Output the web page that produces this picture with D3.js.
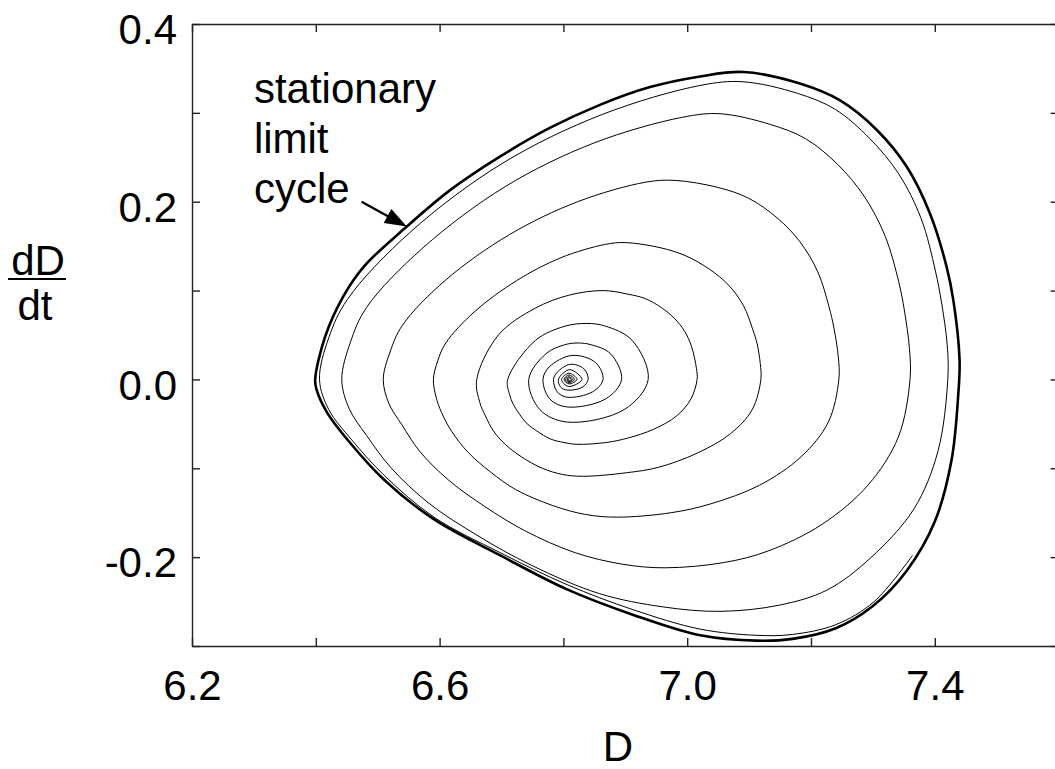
<!DOCTYPE html>
<html>
<head>
<meta charset="utf-8">
<script src="https://d3js.org/d3.v7.min.js"></script>
<style>
  body { margin: 0; background: #fff; }
  svg { display: block; font-family: "Liberation Sans", Arial, Helvetica, sans-serif; }
</style>
</head>
<body>
<svg class="phase-chart" width="1055" height="769"></svg>
<script>
const xTicks = [6.2, 6.4, 6.6, 6.8, 7.0, 7.2, 7.4, 7.6];
const xLabels = [6.2, 6.6, 7.0, 7.4];
const yTicks = [-0.3, -0.2, -0.1, 0.0, 0.1, 0.2, 0.3, 0.4];
const yLabels = [-0.2, 0.0, 0.2, 0.4];

// stationary limit cycle, [D, dD/dt], clockwise from the left tip
const limitCycle = [
  [6.399, 0.000], [6.415, 0.048], [6.444, 0.093], [6.479, 0.128], [6.547, 0.172], [6.617, 0.213],
  [6.698, 0.251], [6.778, 0.283], [6.859, 0.309], [6.940, 0.329], [7.021, 0.341], [7.091, 0.346],
  [7.182, 0.333], [7.247, 0.314], [7.306, 0.281], [7.355, 0.239], [7.392, 0.187], [7.419, 0.127],
  [7.430, 0.089], [7.440, 0.022], [7.438, -0.016], [7.427, -0.091], [7.400, -0.160], [7.355, -0.215],
  [7.300, -0.255], [7.240, -0.280], [7.170, -0.292], [7.112, -0.294], [7.021, -0.288], [6.913, -0.265],
  [6.805, -0.236], [6.698, -0.198], [6.590, -0.157], [6.509, -0.112], [6.455, -0.071], [6.418, -0.037],
  [6.401, -0.011]
];

// trajectory spiralling in to the fixed point
const spiral = [
  [7.364, -0.198], [7.302, -0.250], [7.240, -0.276], [7.170, -0.287], [7.113, -0.288], [7.021, -0.281],
  [6.912, -0.259], [6.806, -0.231], [6.698, -0.195], [6.591, -0.155], [6.512, -0.109], [6.458, -0.068],
  [6.421, -0.034], [6.406, 0.000],
  [6.421, 0.047], [6.451, 0.090], [6.553, 0.166], [6.701, 0.243], [6.862, 0.298], [7.022, 0.331],
  [7.090, 0.335], [7.178, 0.322], [7.239, 0.304], [7.295, 0.271], [7.342, 0.231], [7.378, 0.181],
  [7.401, 0.122], [7.411, 0.086], [7.420, 0.039], [7.421, 0.000],
  [7.405, -0.081], [7.366, -0.146], [7.296, -0.201], [7.226, -0.237], [7.149, -0.254],
  [7.053, -0.261], [6.961, -0.256], [6.858, -0.241], [6.748, -0.209], [6.662, -0.176], [6.582, -0.139],
  [6.521, -0.099], [6.482, -0.063], [6.454, -0.033], [6.442, 0.000],
  [6.456, 0.042], [6.482, 0.081], [6.573, 0.148], [6.706, 0.217], [6.849, 0.266], [6.992, 0.295],
  [7.053, 0.299], [7.134, 0.287], [7.191, 0.271], [7.243, 0.242], [7.286, 0.206], [7.320, 0.161],
  [7.342, 0.109], [7.351, 0.077], [7.359, 0.035], [7.360, 0.000],
  [7.341, -0.065], [7.292, -0.119], [7.218, -0.163], [7.131, -0.193], [7.060, -0.206],
  [6.964, -0.212], [6.896, -0.208], [6.819, -0.195], [6.737, -0.170], [6.673, -0.143], [6.614, -0.113],
  [6.568, -0.081], [6.539, -0.051], [6.518, -0.027], [6.509, 0.000],
  [6.520, 0.031], [6.540, 0.061], [6.610, 0.112], [6.713, 0.163], [6.823, 0.200], [6.933, 0.222],
  [6.980, 0.224], [7.050, 0.216], [7.099, 0.204], [7.145, 0.182], [7.182, 0.155], [7.211, 0.121],
  [7.229, 0.082], [7.237, 0.058], [7.244, 0.026], [7.245, 0.000],
  [7.228, -0.048], [7.184, -0.087], [7.117, -0.119], [7.038, -0.140], [6.974, -0.150], [6.887, -0.155],
  [6.836, -0.152], [6.783, -0.142], [6.723, -0.124], [6.682, -0.104], [6.646, -0.082], [6.620, -0.059],
  [6.603, -0.037], [6.594, -0.019], [6.590, 0.000],
  [6.597, 0.021], [6.610, 0.041], [6.656, 0.076], [6.724, 0.111], [6.796, 0.137], [6.868, 0.152],
  [6.900, 0.154], [6.958, 0.148], [6.998, 0.139], [7.036, 0.124], [7.067, 0.106], [7.091, 0.083],
  [7.106, 0.056], [7.113, 0.040], [7.118, 0.018], [7.119, 0.000],
  [7.105, -0.034], [7.070, -0.061], [7.016, -0.083], [6.953, -0.099], [6.902, -0.105], [6.832, -0.109],
  [6.799, -0.107], [6.766, -0.100], [6.732, -0.087], [6.706, -0.073], [6.687, -0.058], [6.674, -0.041],
  [6.665, -0.026], [6.660, 0.000],
  [6.695, 0.050], [6.754, 0.080], [6.810, 0.095], [6.864, 0.100],
  [6.904, 0.096], [6.932, 0.091], [6.958, 0.081], [6.979, 0.069], [6.996, 0.054], [7.007, 0.037],
  [7.015, 0.012], [7.016, 0.000],
  [7.006, -0.022], [6.983, -0.041], [6.946, -0.056], [6.904, -0.066], [6.869, -0.071], [6.822, -0.073],
  [6.801, -0.071], [6.779, -0.067], [6.757, -0.058], [6.740, -0.049], [6.728, -0.038], [6.719, -0.028],
  [6.713, -0.017], [6.710, 0.000],
  [6.755, 0.044], [6.803, 0.060], [6.838, 0.063], [6.868, 0.060], [6.911, 0.044], [6.937, 0.000],
  [6.898, -0.034], [6.806, -0.048], [6.762, -0.034], [6.744, 0.000],
  [6.772, 0.029], [6.802, 0.039], [6.824, 0.041], [6.845, 0.039], [6.876, 0.029], [6.894, 0.000],
  [6.868, -0.022], [6.806, -0.031], [6.778, -0.022], [6.767, 0.000],
  [6.777, 0.014], [6.814, 0.027], [6.852, 0.019], [6.864, 0.000],
  [6.847, -0.014], [6.806, -0.020], [6.790, -0.014], [6.784, 0.000],
  [6.790, 0.008], [6.811, 0.017], [6.833, 0.012], [6.840, 0.000],
  [6.830, -0.009], [6.807, -0.012], [6.796, -0.009], [6.792, 0.000],
  [6.810, 0.011], [6.830, 0.000], [6.808, -0.008], [6.797, 0.000],
  [6.809, 0.007], [6.822, 0.000], [6.809, -0.005], [6.801, 0.000],
  [6.809, 0.005], [6.818, 0.000], [6.809, -0.0035], [6.803, 0.000],
  [6.809, 0.003], [6.815, 0.000], [6.809, -0.0024], [6.8055, 0.000],
  [6.809, 0.0018], [6.8128, 0.000], [6.809, -0.0015], [6.807, 0.000],
  [6.809, 0.000]
];

const noteLines = ['stationary', 'limit', 'cycle'];
const notePos = [6.300, 0.311];
const arrowFrom = [6.474, 0.200];
const arrowTo = [6.547, 0.172];

const chart = d3.select('svg.phase-chart');
const x = d3.scaleLinear().domain([6.2, 7.6]).range([192, 1058.6]);
const y = d3.scaleLinear().domain([-0.3, 0.4]).range([646, 24]);

function isLabel(list, v) {
  return list.some(function(l) { return Math.abs(l - v) < 1e-9; });
}

function styleAxis(g) {
  g.attr('font-family', null).attr('font-size', null).attr('color', '#222');
  g.selectAll('path, line').attr('stroke-width', 1.4);
  g.selectAll('text').style('font-size', '42px').attr('fill', '#000');
}

chart.append('g')
  .attr('transform', 'translate(0,' + y(-0.3) + ')')
  .call(d3.axisBottom(x).tickValues(xTicks).tickSizeInner(-8).tickSizeOuter(0).tickPadding(24)
    .tickFormat(function(d) { return isLabel(xLabels, d) ? d.toFixed(1) : ''; }))
  .call(styleAxis);

chart.append('g')
  .attr('transform', 'translate(0,' + y(0.4) + ')')
  .call(d3.axisTop(x).tickValues(xTicks).tickSizeInner(-8).tickSizeOuter(0).tickFormat(''))
  .call(styleAxis);

chart.append('g')
  .attr('transform', 'translate(' + x(6.2) + ',0)')
  .call(d3.axisLeft(y).tickValues(yTicks).tickSizeInner(-8).tickSizeOuter(0).tickPadding(15)
    .tickFormat(function(d) { return isLabel(yLabels, d) ? d.toFixed(1) : ''; }))
  .call(styleAxis)
  .selectAll('text').attr('dy', '0.47em');

chart.append('g')
  .attr('transform', 'translate(' + x(7.6) + ',0)')
  .call(d3.axisRight(y).tickValues(yTicks).tickSizeInner(-8).tickSizeOuter(0).tickFormat(''))
  .call(styleAxis);

const line = d3.line()
  .x(function(d) { return x(d[0]); })
  .y(function(d) { return y(d[1]); });

chart.append('path')
  .datum(spiral)
  .attr('fill', 'none')
  .attr('stroke', '#000')
  .attr('stroke-width', 1)
  .attr('d', line.curve(d3.curveCatmullRom.alpha(0.5)));

chart.append('path')
  .datum(limitCycle)
  .attr('fill', 'none')
  .attr('stroke', '#000')
  .attr('stroke-width', 2.6)
  .attr('d', line.curve(d3.curveCatmullRomClosed.alpha(0.5)));

// annotation
chart.append('g')
  .selectAll('text')
  .data(noteLines)
  .enter()
  .append('text')
  .attr('x', x(notePos[0]))
  .attr('y', function(d, i) { return y(notePos[1]) + i * 50; })
  .style('font-size', '42px')
  .text(function(d) { return d; });

const x0 = x(arrowFrom[0]), y0 = y(arrowFrom[1]);
const x1 = x(arrowTo[0]), y1 = y(arrowTo[1]);
const len = Math.hypot(x1 - x0, y1 - y0);
const ux = (x1 - x0) / len, uy = (y1 - y0) / len;
const headLen = 22, headHalf = 8;
const bx = x1 - ux * headLen, by = y1 - uy * headLen;

chart.append('line')
  .attr('x1', x0).attr('y1', y0)
  .attr('x2', bx + ux * 2).attr('y2', by + uy * 2)
  .attr('stroke', '#000')
  .attr('stroke-width', 2.4);

chart.append('path')
  .attr('d', 'M' + x1 + ',' + y1 +
    'L' + (bx - uy * headHalf) + ',' + (by + ux * headHalf) +
    'L' + (bx + uy * headHalf) + ',' + (by - ux * headHalf) + 'Z')
  .attr('fill', '#000');

// axis titles
chart.append('text')
  .attr('x', 618).attr('y', 761)
  .attr('text-anchor', 'middle')
  .style('font-size', '42px')
  .text('D');

chart.append('text')
  .attr('x', 38).attr('y', 275)
  .attr('text-anchor', 'middle')
  .style('font-size', '42px')
  .text('dD');

chart.append('line')
  .attr('x1', 8).attr('x2', 66)
  .attr('y1', 279).attr('y2', 279)
  .attr('stroke', '#000')
  .attr('stroke-width', 2.2);

chart.append('text')
  .attr('x', 35).attr('y', 320)
  .attr('text-anchor', 'middle')
  .style('font-size', '42px')
  .text('dt');
</script>
</body>
</html>
